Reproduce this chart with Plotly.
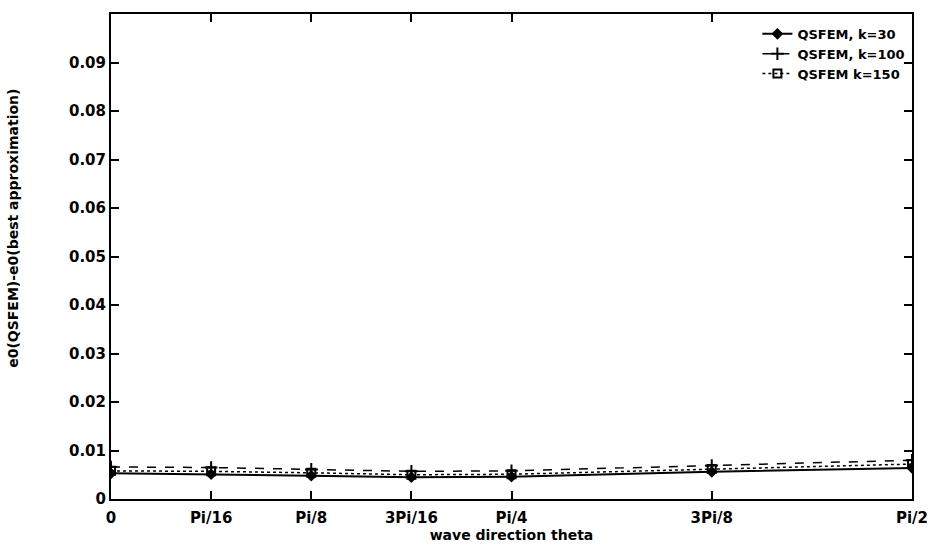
import math
import plotly.graph_objects as go

theta = [0, math.pi/16, math.pi/8, 3*math.pi/16, math.pi/4, 3*math.pi/8, math.pi/2]
tick_labels = ["0", "Pi/16", "Pi/8", "3Pi/16", "Pi/4", "3Pi/8", "Pi/2"]

k30 = [0.0053, 0.0051, 0.0048, 0.0045, 0.0046, 0.0056, 0.0064]
k100 = [0.0066, 0.0065, 0.0061, 0.0057, 0.0058, 0.0069, 0.0080]
k150 = [0.0058, 0.0057, 0.0054, 0.0050, 0.0051, 0.0062, 0.0072]

y_ticks = [0, 0.01, 0.02, 0.03, 0.04, 0.05, 0.06, 0.07, 0.08, 0.09]
y_labels = ["0", "0.01", "0.02", "0.03", "0.04", "0.05", "0.06", "0.07", "0.08", "0.09"]

FONT = "DejaVu Sans"

fig = go.Figure()
fig.add_trace(go.Scatter(x=theta, y=k30, mode="lines+markers", name="QSFEM, k=30",
                         line=dict(color="black", width=2, dash="solid"),
                         marker=dict(symbol="diamond", size=9, color="black")))
fig.add_trace(go.Scatter(x=theta, y=k100, mode="lines+markers", name="QSFEM, k=100",
                         line=dict(color="black", width=1.5, dash="dash"),
                         marker=dict(symbol="cross-thin", size=9, line=dict(color="black", width=2))))
fig.add_trace(go.Scatter(x=theta, y=k150, mode="lines+markers", name="QSFEM k=150",
                         line=dict(color="black", width=1.5, dash="dot"),
                         marker=dict(symbol="square-open", size=8, color="black", line=dict(width=2))))

fig.update_layout(
    width=940, height=549,
    margin=dict(l=111, r=17, t=14, b=49),
    paper_bgcolor="white", plot_bgcolor="white",
    font=dict(family=FONT, size=13, color="black"),
    showlegend=True,
    legend=dict(x=0.998, y=0.99, xanchor="right", yanchor="top",
                bgcolor="rgba(0,0,0,0)", font=dict(family=FONT, size=13, color="black", weight="bold"),
                tracegroupgap=0, itemwidth=30),
    annotations=[dict(
        text="e0(QSFEM)-e0(best approximation)", textangle=-90,
        xref="paper", yref="paper", x=0, y=0.557, xanchor="center", yanchor="middle",
        xshift=-98, showarrow=False,
        font=dict(family=FONT, size=14, weight="bold", color="black"),
    )],
)
fig.update_xaxes(
    range=[0, math.pi/2], tickvals=theta, ticktext=tick_labels,
    showgrid=False, zeroline=False, showline=True, linecolor="black", linewidth=2,
    mirror="ticks", ticks="inside", ticklen=8, tickwidth=2, tickcolor="black",
    ticklabelstandoff=4,
    tickfont=dict(family=FONT, size=15, weight="bold"),
    title=dict(text="wave direction theta", standoff=0, font=dict(family=FONT, size=14, weight="bold")),
)
fig.update_yaxes(
    range=[0, 0.1], tickvals=y_ticks, ticktext=y_labels,
    showgrid=False, zeroline=False, showline=True, linecolor="black", linewidth=2,
    mirror="ticks", ticks="inside", ticklen=8, tickwidth=2, tickcolor="black",
    tickfont=dict(family=FONT, size=15, weight="bold"),
)

fig.write_html("out.html",
               config={"displayModeBar": False},
               post_script="document.body.style.margin='0';document.body.style.overflow='hidden';")
